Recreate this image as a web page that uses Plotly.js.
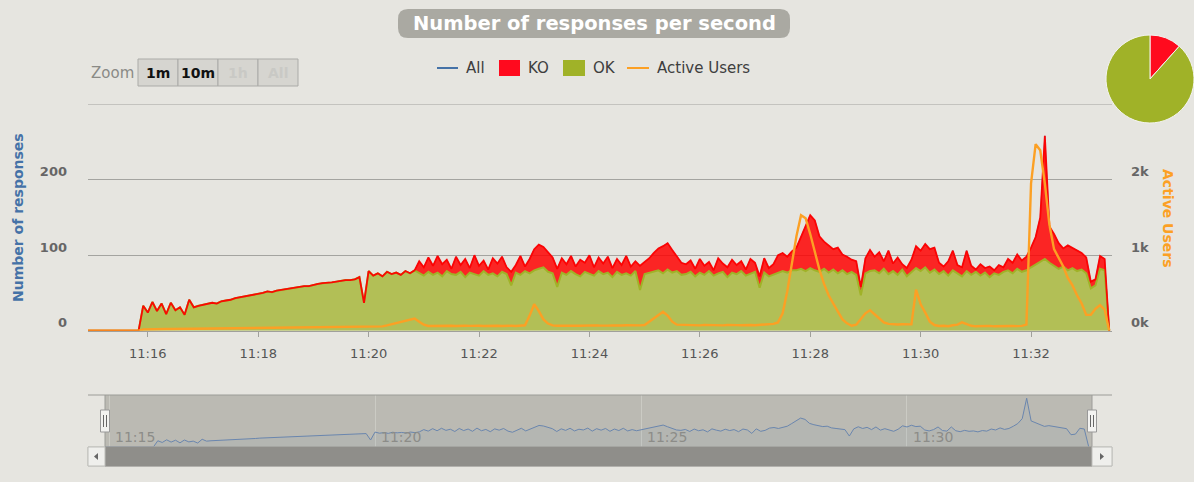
<!DOCTYPE html>
<html><head><meta charset="utf-8">
<script src="https://cdn.plot.ly/plotly-3.0.1.min.js"></script>
<style>html,body{margin:0;padding:0;background:#E6E5E0;} #chart{width:1194px;height:482px;}</style>
</head><body><div id="chart"></div>
<script>
// ---- data: one point every 5 s starting at 11:14:55 ----
const okValues = [
0,0,0,0,0,0,0,0,0,0,0,0,
33,24,38,26,36,22,37,27,31,21,41,
31,33,34,35,37,36,39,40,41,43,44,45,47,48,49,50,52,51,53,54,54,56,57,58,59,59,61,62,63,64,64,65,66,67,67,68,71,37,79,
73,76,72,78,75,77,74,79,76,80,
76,73,78,74,77,72,79,75,74,78,71,77,75,73,79,74,76,72,78,75,60,77,74,79,76,
80,82,84,78,76,58,
77,74,79,75,72,78,76,73,79,75,77,71,78,74,76,73,79,54,75,77,
78,80,76,81,77,79,74,
75,78,72,77,74,79,73,76,78,71,77,75,79,73,76,78,57,77,72,74,76,79,77,80,
80,82,79,83,80,78,82,77,81,76,80,75,78,74,47,76,79,
80,76,82,75,79,74,81,72,78,83,79,84,77,81,75,79,73,80,76,72,79,74,78,73,77,71,76,74,78,80,76,82,78,
80,84,88,92,95,90,86,82,85,80,83,79,81,76,56,60,82,80,0
];
const allValues = [
0,0,0,0,0,0,0,0,0,0,0,0,
33,24,38,26,36,22,37,27,31,21,41,
31,33,34,35,37,36,39,40,41,43,44,45,47,48,49,50,52,51,53,54,54,56,57,58,59,59,61,62,63,64,64,65,66,67,67,68,71,37,79,
73,76,72,78,75,77,74,79,76,80,
92,84,97,86,99,88,94,82,98,87,95,83,100,86,93,81,96,89,98,84,78,87,99,85,95,
108,114,111,104,97,82,
96,88,99,85,94,90,100,84,97,89,98,83,95,87,99,85,92,86,91,96,
103,109,112,116,107,99,90,
88,93,82,95,86,91,80,96,89,84,94,87,92,81,95,90,72,96,83,88,100,103,98,105,
110,124,140,153,146,125,118,113,108,110,101,98,94,92,58,96,107,
98,104,92,106,89,97,88,83,94,112,106,115,108,110,90,85,92,106,87,84,106,86,81,88,83,85,80,87,84,95,90,101,93,
98,110,124,150,258,138,128,116,109,113,110,106,103,97,65,68,99,95,0
];
const activeUsers = [
0,0,0,0,0,0,0,0,0,0,0,0,
15,18,20,21,22,22,23,24,24,25,26,27,27,28,28,29,30,30,31,32,32,33,34,34,35,36,36,37,38,38,39,40,40,41,42,42,43,44,45,45,46,47,48,49,50,50,51,52,53,54,55,56,57,
70,85,100,115,130,145,160,120,80,62,
64,66,63,67,65,62,68,66,64,69,65,63,67,64,66,62,68,65,63,67,72,
200,350,260,150,95,70,
66,68,64,70,67,65,69,66,71,68,64,67,70,66,68,72,69,65,70,75,
120,170,210,250,200,120,80,
76,72,78,74,70,77,73,79,75,71,76,80,74,72,78,75,73,77,79,82,90,
110,230,520,880,1250,1530,1490,1280,1040,810,620,470,360,260,150,98,65,80,150,230,270,220,165,110,
90,85,82,86,80,84,
545,350,240,120,75,
62,66,60,72,80,110,85,65,58,62,60,64,58,61,63,59,62,60,64,80,
1950,2470,2390,1950,1400,1080,960,850,700,600,470,360,210,210,290,340,280,0
];
const START_MS = Date.UTC(2020,0,1,11,14,55);
const STEP_MS = 5000;
const RANGE_END_MS = Date.UTC(2020,0,1,11,33,28);
const leftTickVals = [0,100,200];
const leftTickText = ['0','100','200'];
const leftAxisMax = 300;
const rightTickVals = [0,1000,2000];
const rightTickText = ['0k','1k','2k'];
const rightAxisMax = 3000;
const navTickTimes = [Date.UTC(2020,0,1,11,15), Date.UTC(2020,0,1,11,20), Date.UTC(2020,0,1,11,25), Date.UTC(2020,0,1,11,30)];
const navTickLabels = ['11:15','11:20','11:25','11:30'];
const pieLabels = ['KO','OK'];
const pieValues = [11.6, 88.4];
const legendNames = ['All','KO','OK','Active Users'];
const zoomButtons = ['1m','10m','1h','All'];
const chartTitle = 'Number of responses per second';

// ---- build ----
const W = 1194, H = 482;
const X = p => p / W, Y = p => 1 - p / H;
const BG = '#E6E5E0', FONT = 'DejaVu Sans, Verdana, sans-serif';
const AU_COLOR = '#FCA024';
const times = okValues.map((_, i) => START_MS + i * STEP_MS);
const koValues = allValues.map((v, i) => v - okValues[i]);

function rr(x0, y0, x1, y1, r) {
  const rx = r / W, ry = r / H, a = X(x0), b = X(x1), t = Y(y0), u = Y(y1);
  return `M ${a+rx},${t} L ${b-rx},${t} Q ${b},${t} ${b},${t-ry} L ${b},${u+ry} Q ${b},${u} ${b-rx},${u} L ${a+rx},${u} Q ${a},${u} ${a},${u+ry} L ${a},${t-ry} Q ${a},${t} ${a+rx},${t} Z`;
}
function rect(x0, y0, x1, y1, fill, line, lw, layer) {
  return {type:'rect', xref:'paper', yref:'paper', x0:X(x0), x1:X(x1), y0:Y(y1), y1:Y(y0),
    fillcolor: fill, line:{color: line || 'rgba(0,0,0,0)', width: lw == null ? 1 : lw}, layer: layer || 'above'};
}
function seg(x0, y0, x1, y1, color, w) {
  return {type:'line', xref:'paper', yref:'paper', x0:X(x0), x1:X(x1), y0:Y(y0), y1:Y(y1), line:{color, width:w}};
}
function pathPx(pts, fill) {
  const d = 'M ' + pts.map(p => `${X(p[0])},${Y(p[1])}`).join(' L ') + ' Z';
  return {type:'path', xref:'paper', yref:'paper', path:d, fillcolor:fill, line:{width:0}};
}

const shapes = [];
// top gridline of the main plot (value 300)
shapes.push({type:'line', xref:'x domain', yref:'y', x0:0, x1:1, y0:leftAxisMax, y1:leftAxisMax, line:{color:'#A4A4A0', width:1}, layer:'below'});
// title box
shapes.push({type:'path', xref:'paper', yref:'paper', path: rr(398, 9, 790, 38, 10), fillcolor:'#AAA9A2', line:{width:0}});
// zoom buttons
[138, 178, 218, 258].forEach(x => shapes.push(rect(x, 59, x + 40, 86, '#D6D5D0', '#ABABA8', 1)));
// legend symbols
shapes.push(seg(437, 68, 458, 68, '#4572A7', 2));
shapes.push(rect(499, 60, 520, 76, '#FF0A1E', null, 0));
shapes.push(rect(563, 60, 585, 76, '#A0B228', null, 0));
shapes.push(seg(627, 68, 649, 68, AU_COLOR, 2));
// navigator
shapes.push(rect(105, 395, 1092, 447, '#BBBAB3', null, 0, 'below'));
shapes.push(seg(88, 395, 1112, 395, '#9C9C98', 1));
shapes.push(seg(105, 395, 105, 447, '#9C9C98', 1));
shapes.push(seg(1092, 395, 1092, 447, '#9C9C98', 1));
// scrollbar
shapes.push(rect(88, 447, 1112, 466, '#E9E9E6', '#C4C4C0', 1));
shapes.push(rect(105, 447, 1092, 466, '#8F8E8A', '#8F8E8A', 1));
shapes.push(rect(88, 447, 105, 466, '#EFEFEC', '#BDBDB9', 1));
shapes.push(rect(1092, 447, 1112, 466, '#EFEFEC', '#BDBDB9', 1));
shapes.push(pathPx([[98, 453], [94, 456.5], [98, 460]], '#666'));
shapes.push(pathPx([[1100, 453], [1104, 456.5], [1100, 460]], '#666'));
// handles
[105, 1092].forEach(x => {
  shapes.push(rect(x - 4.5, 410, x + 4.5, 432, '#F2F2F0', '#999', 1));
  shapes.push(seg(x - 1.5, 415, x - 1.5, 427, '#666', 1));
  shapes.push(seg(x + 1.5, 415, x + 1.5, 427, '#666', 1));
});

const ann = (text, x, y, opts) => Object.assign({text, x:X(x), y:Y(y), xref:'paper', yref:'paper', showarrow:false,
  xanchor:'center', yanchor:'middle', font:{family:FONT, size:15, color:'#3E3E3E'}}, opts || {});
const annotations = [
  ann(chartTitle, 594, 23.5, {font:{family:FONT, size:19.5, color:'#FFFFFF', weight:'bold'}}),
  ann('Zoom', 89, 73, {xanchor:'left', font:{family:FONT, size:15, color:'#8A8A86'}}),
  ann(zoomButtons[0], 158, 72.5, {font:{family:FONT, size:14, color:'#111', weight:'bold'}}),
  ann(zoomButtons[1], 198, 72.5, {font:{family:FONT, size:14, color:'#111', weight:'bold'}}),
  ann(zoomButtons[2], 238, 72.5, {font:{family:FONT, size:14, color:'#C9C9C5', weight:'bold'}}),
  ann(zoomButtons[3], 278, 72.5, {font:{family:FONT, size:14, color:'#C9C9C5', weight:'bold'}}),
  ann(legendNames[0], 464, 68, {xanchor:'left'}),
  ann(legendNames[1], 526, 68, {xanchor:'left'}),
  ann(legendNames[2], 591, 68, {xanchor:'left'}),
  ann(legendNames[3], 655, 68, {xanchor:'left'}),
  ann('Number of responses', 18, 218, {textangle:-90, font:{family:FONT, size:14, color:'#4572A7', weight:'bold'}}),
  ann('Active Users', 1168, 218, {textangle:90, font:{family:FONT, size:14, color:AU_COLOR, weight:'bold'}})
];
navTickTimes.forEach((t, k) => annotations.push({text: navTickLabels[k], x: t, xref:'x3', y: Y(437), yref:'paper',
  showarrow:false, xanchor:'left', yanchor:'middle', xshift:4, font:{family:FONT, size:14, color:'#8C8C88'}}));

const traces = [
  {x: times, y: allValues, name:'All', type:'scatter', mode:'lines', line:{color:'#4572A7', width:1}, xaxis:'x', yaxis:'y', hoverinfo:'skip'},
  {x: times, y: okValues, name:'OK', type:'scatter', mode:'lines', stackgroup:'resp', line:{color:'#A0B228', width:2}, fillcolor:'rgba(160,178,40,0.75)', xaxis:'x', yaxis:'y', hoverinfo:'skip'},
  {x: times, y: koValues, name:'KO', type:'scatter', mode:'lines', stackgroup:'resp', line:{color:'rgba(255,0,0,0.95)', width:1.8}, fillcolor:'rgba(255,0,0,0.84)', xaxis:'x', yaxis:'y', hoverinfo:'skip'},
  {x: times, y: activeUsers, name:'Active Users', type:'scatter', mode:'lines', line:{color:AU_COLOR, width:2.4}, xaxis:'x', yaxis:'y2', hoverinfo:'skip'},
  {x: times, y: allValues, name:'All (navigator)', type:'scatter', mode:'lines', line:{color:'#6A86AE', width:1}, fill:'tozeroy', fillcolor:'rgba(69,114,167,0.06)', xaxis:'x3', yaxis:'y3', hoverinfo:'skip'},
  {type:'pie', labels: pieLabels, values: pieValues, sort:false, direction:'counterclockwise', rotation:0,
   marker:{colors:['#FF0A1E','#A0B228'], line:{color:'#F4F4F0', width:1}}, textinfo:'none', hoverinfo:'skip',
   domain:{x:[X(1106), 1], y:[Y(123), Y(35)]}, showlegend:false}
];

const tickFontY = {family:FONT, size:13, color:'#666', weight:'bold'};
const layout = {
  width: W, height: H, margin:{l:0, r:0, t:0, b:0, pad:0},
  paper_bgcolor: BG, plot_bgcolor: BG, showlegend:false, hovermode:false,
  font:{family:FONT, color:'#666'},
  xaxis:{type:'date', domain:[X(88), X(1112)], range:[START_MS, RANGE_END_MS], anchor:'y',
    tick0: Date.UTC(2020,0,1,11,16), dtick: 120000, tickformat:'%H:%M',
    ticks:'outside', ticklen:5, tickcolor:'#A0A09C', showgrid:false, showline:true, linecolor:'#A0A09C', linewidth:1,
    zeroline:false, tickfont:{family:FONT, size:13, color:'#555'}, ticklabelstandoff:6, fixedrange:true},
  yaxis:{domain:[Y(330.7), Y(104.2)], range:[0,leftAxisMax], anchor:'x', tickvals:leftTickVals, ticktext:leftTickText,
    showgrid:true, gridcolor:'#A4A4A0', gridwidth:1, zeroline:false, showline:false, ticks:'',
    tickfont:tickFontY, ticklabelstandoff:20, ticklabelshift:-8, fixedrange:true},
  yaxis2:{overlaying:'y', side:'right', anchor:'x', range:[0,rightAxisMax], tickvals:rightTickVals, ticktext:rightTickText,
    showgrid:false, zeroline:false, showline:false, ticks:'', tickfont:tickFontY, ticklabelstandoff:18, ticklabelshift:-8, fixedrange:true},
  xaxis3:{type:'date', domain:[X(104.6), X(1091.4)], range:[START_MS, RANGE_END_MS], anchor:'y3',
    tick0: Date.UTC(2020,0,1,11,15), dtick: 300000, showgrid:true, gridcolor:'#CBCBC4',
    ticks:'', showticklabels:false, showline:false, zeroline:false, fixedrange:true},
  yaxis3:{domain:[Y(447), Y(395)], range:[0,275], anchor:'x3', showgrid:false, showticklabels:false,
    zeroline:false, ticks:'', showline:false, fixedrange:true},
  shapes, annotations
};
Plotly.newPlot('chart', traces, layout, {displayModeBar:false, staticPlot:true});
</script>
</body></html>
